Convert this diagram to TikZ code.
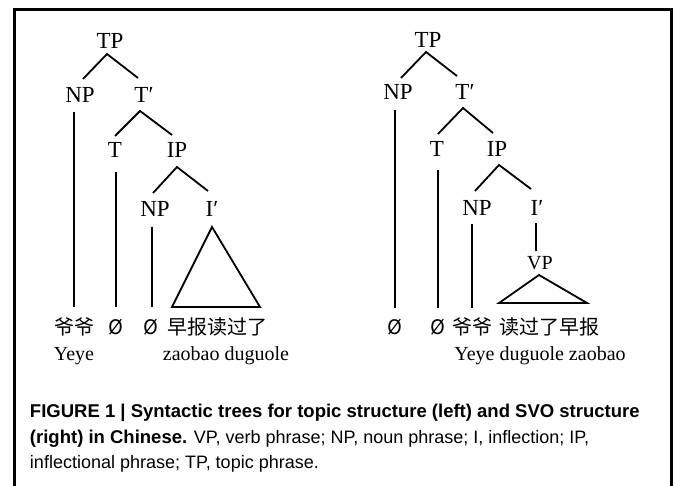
\documentclass[tikz,border=0pt]{standalone}
\usepackage{fontspec}
\setmainfont{Liberation Serif}
\newfontfamily\cjk{Noto Sans CJK SC}
\newfontfamily\capfont{Liberation Sans}
\begin{document}
\begin{tikzpicture}[x=1pt,y=-1pt,
  lab/.style={anchor=base,inner sep=0pt,outer sep=0pt,font=\fontsize{23}{23}\selectfont},
  smalllab/.style={anchor=base,inner sep=0pt,outer sep=0pt,font=\fontsize{20}{20}\selectfont},
  leaf/.style={anchor=base,inner sep=0pt,outer sep=0pt,font=\cjk\fontsize{20}{20}\selectfont},
  gloss/.style={anchor=base,inner sep=0pt,outer sep=0pt,font=\fontsize{20}{20}\selectfont},
  capline/.style={anchor=base west,inner sep=0pt,outer sep=0pt,font=\capfont\fontsize{18}{18}\selectfont},
  branch/.style={line width=1.8pt},
  frame/.style={line width=3pt}]
\useasboundingbox (0,0) rectangle (673,486);
\draw[frame] (14,486) -- (14,10) -- (671,10) -- (671,486);

% ---------- left tree ----------
\node[lab] (tpL) at (110,49) {TP};
\node[lab] (npL1) at (80,103) {NP};
\node[lab] (ptL) at (144,103) {T′};
\node[lab] (tL) at (115,158) {T};
\node[lab] (ipL) at (177,158) {IP};
\node[lab] (npL2) at (155,217) {NP};
\node[lab] (ibL) at (212,217) {I′};
\node[leaf] (yeL) at (74,335) {爷爷};
\node[leaf] (zeroL1) at (116,335) {Ø};
\node[leaf] (zeroL2) at (151,335) {Ø};
\node[leaf] (vpL) at (217,335) {早报读过了};
\node[gloss] (glL1) at (74,361) {Yeye};
\node[gloss] (glL2) at (226,361) {zaobao duguole};

\draw[branch] ([shift={(-6pt,25pt)}]ptL.base) -- ([shift={(-3pt,-5pt)}]tpL.base) -- ([shift={(3pt,24pt)}]npL1.base);
\draw[branch] ([shift={(0pt,22pt)}]tL.base) -- ([shift={(-4pt,-8pt)}]ptL.base) -- ([shift={(-5pt,23pt)}]ipL.base);
\draw[branch] ([shift={(-2pt,24pt)}]npL2.base) -- ([shift={(0pt,-9pt)}]ipL.base) -- ([shift={(-4pt,26pt)}]ibL.base);
\draw[branch] ([shift={(-6pt,-9pt)}]npL1.base) -- ([shift={(0pt,28pt)}]yeL.base);
\draw[branch] ([shift={(1pt,-14pt)}]tL.base) -- ([shift={(0pt,28pt)}]zeroL1.base);
\draw[branch] ([shift={(-3pt,-10pt)}]npL2.base) -- ([shift={(1pt,28pt)}]zeroL2.base);
\draw[branch,line join=miter] ([shift={(0pt,-10pt)}]ibL.base) -- ([shift={(-45pt,28pt)}]vpL.base) -- ([shift={(43pt,28pt)}]vpL.base) -- cycle;

% ---------- right tree ----------
\node[lab] (tpR) at (428,48) {TP};
\node[lab] (npR1) at (398,100) {NP};
\node[lab] (ptR) at (465,100) {T′};
\node[lab] (tR) at (437,157) {T};
\node[lab] (ipR) at (497,157) {IP};
\node[lab] (npR2) at (477,216) {NP};
\node[lab] (ibR) at (537,216) {I′};
\node[smalllab] (vpR) at (540,270) {VP};
\node[leaf] (zeroR1) at (395,335) {Ø};
\node[leaf] (zeroR2) at (438,335) {Ø};
\node[leaf] (yeR) at (472,335) {爷爷};
\node[leaf] (vR) at (549,335) {读过了早报};
\node[gloss] (glR) at (540,361) {Yeye duguole zaobao};

\draw[branch] ([shift={(-8pt,24pt)}]ptR.base) -- ([shift={(-2pt,-4pt)}]tpR.base) -- ([shift={(3pt,22pt)}]npR1.base);
\draw[branch] ([shift={(1pt,23pt)}]tR.base) -- ([shift={(-2pt,-8pt)}]ptR.base) -- ([shift={(-4pt,24pt)}]ipR.base);
\draw[branch] ([shift={(-2pt,25pt)}]npR2.base) -- ([shift={(2pt,-8pt)}]ipR.base) -- ([shift={(-6pt,27pt)}]ibR.base);
\draw[branch] ([shift={(-1pt,-7pt)}]ibR.base) -- ([shift={(-4pt,19pt)}]vpR.base);
\draw[branch,line join=miter] ([shift={(-1pt,-5pt)}]vpR.base) -- ([shift={(-50pt,32pt)}]vR.base) -- ([shift={(38pt,32pt)}]vR.base) -- cycle;
\draw[branch] ([shift={(-3pt,-10pt)}]npR1.base) -- ([shift={(0pt,27pt)}]zeroR1.base);
\draw[branch] ([shift={(1pt,-13pt)}]tR.base) -- ([shift={(0pt,27pt)}]zeroR2.base);
\draw[branch] ([shift={(-5pt,-8pt)}]npR2.base) -- ([shift={(0pt,27pt)}]yeR.base);

% ---------- caption ----------
\node[capline] (cap1) at (30,418) {\bfseries\fontsize{18.5}{18.5}\selectfont FIGURE 1 | Syntactic trees for topic structure (left) and SVO structure};
\node[capline] (cap2) at (30,444) {{\bfseries\fontsize{18.5}{18.5}\selectfont (right) in Chinese.} VP, verb phrase; NP, noun phrase; I, inflection; IP,};
\node[capline] (cap3) at (30,469) {inflectional phrase; TP, topic phrase.};
\end{tikzpicture}
\end{document}
